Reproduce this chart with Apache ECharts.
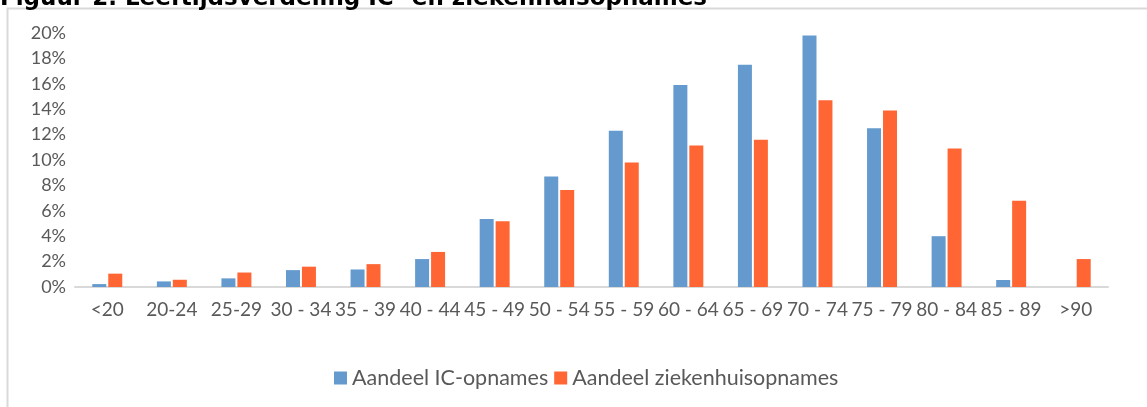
<!DOCTYPE html>
<html>
<head>
<meta charset="utf-8">
<script src="https://cdn.jsdelivr.net/npm/echarts@6/dist/echarts.min.js"></script>
<style>
  html, body { margin: 0; padding: 0; background: #fff; }
  #main { width: 1147px; height: 407px; }
</style>
</head>
<body>
<div id="main"></div>
<script>
var chartDom = document.getElementById('main');
var myChart = echarts.init(chartDom, null, { renderer: 'canvas' });

// leeftijdsgroepen
var ageGroups = ['<20', '20-24', '25-29', '30 - 34', '35 - 39', '40 - 44', '45 - 49', '50 - 54',
    '55 - 59', '60 - 64', '65 - 69', '70 - 74', '75 - 79', '80 - 84', '85 - 89', '>90'];
// aandeel in procenten
var icShare = [0.23, 0.44, 0.68, 1.33, 1.38, 2.2, 5.35, 8.7, 12.3, 15.9, 17.5, 19.8, 12.5, 4.0, 0.55, 0];
var hospitalShare = [1.05, 0.57, 1.14, 1.6, 1.8, 2.76, 5.17, 7.64, 9.8, 11.15, 11.6, 14.7, 13.9, 10.9, 6.8, 2.2];
var seriesNames = ['Aandeel IC-opnames', 'Aandeel ziekenhuisopnames'];
var titleText = 'Figuur 2. Leeftijdsverdeling IC- en ziekenhuisopnames';

var textColor = '#595959';
var labelFont = 'Lato, "Open Sans", sans-serif';

var option = {
    animation: false,
    graphic: [
        { // kader rond de grafiek
            type: 'rect',
            shape: { x: 7.5, y: 8.5, width: 1200, height: 500 },
            style: { fill: 'none', stroke: '#d9d9d9', lineWidth: 2 },
            silent: true
        },
        { // titel, bovenkant valt buiten beeld
            type: 'text',
            x: 0,
            y: 11,
            style: {
                text: titleText,
                font: 'bold 23px "DejaVu Sans", Verdana, sans-serif',
                fill: '#000',
                verticalAlign: 'bottom'
            },
            silent: true
        }
    ],
    grid: {
        left: 75,
        right: 39,
        top: 33,
        bottom: 120,
        containLabel: false
    },
    legend: {
        top: 362,
        left: 329,
        itemWidth: 13,
        itemHeight: 13,
        itemGap: 6,
        icon: 'rect',
        textStyle: { color: textColor, fontSize: 21.5, fontFamily: labelFont },
        data: seriesNames
    },
    xAxis: {
        type: 'category',
        data: ageGroups,
        axisLine: { lineStyle: { color: '#d9d9d9', width: 2 } },
        axisTick: { show: false },
        axisLabel: {
            interval: 0,
            color: textColor,
            fontSize: 19,
            fontFamily: labelFont,
            margin: 13
        }
    },
    yAxis: {
        type: 'value',
        min: 0,
        max: 20,
        interval: 2,
        splitLine: { show: false },
        axisLine: { show: false },
        axisTick: { show: false },
        axisLabel: {
            color: textColor,
            fontSize: 18,
            fontFamily: labelFont,
            margin: 9,
            formatter: '{value}%'
        }
    },
    series: [
        {
            name: seriesNames[0],
            type: 'bar',
            data: icShare,
            barWidth: 14,
            barGap: '14%',
            itemStyle: { color: '#659ACE' }
        },
        {
            name: seriesNames[1],
            type: 'bar',
            data: hospitalShare,
            barWidth: 14,
            barGap: '14%',
            itemStyle: { color: '#FF6633' }
        }
    ]
};

myChart.setOption(option);
</script>
</body>
</html>
